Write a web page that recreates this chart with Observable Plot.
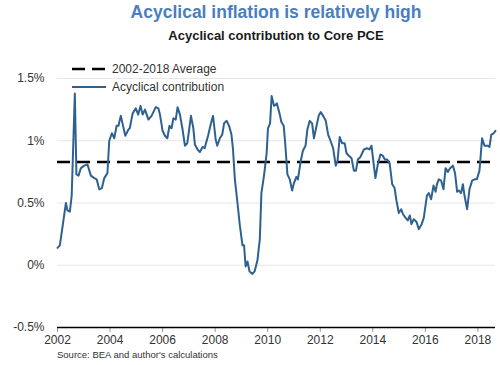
<!DOCTYPE html>
<html>
<head>
<meta charset="utf-8">
<script src="https://cdn.jsdelivr.net/npm/d3@7"></script>
<script src="https://cdn.jsdelivr.net/npm/@observablehq/plot@0.6"></script>
<style>
  body { margin: 0; background: #fff; font-family: "Liberation Sans", Arial, sans-serif; }
  #wrap { position: relative; width: 500px; height: 365px; overflow: hidden; }
  #head { position: relative; height: 48px; }
  #title { position: absolute; left: 57px; width: 438px; top: 2px; text-align: center; font-size: 17.5px; font-weight: bold; color: #4a7ebf; }
  #subtitle { position: absolute; left: 57px; width: 438px; top: 28px; text-align: center; font-size: 13px; font-weight: bold; color: #1a1a1a; }
  #legend { position: absolute; left: 72px; top: 60px; font-size: 12px; color: #333; }
  .li { display: flex; align-items: center; height: 18px; }
  .li svg { margin-right: 6px; }
  #source { position: absolute; left: 57px; top: 349px; font-size: 9.5px; color: #333; }
</style>
</head>
<body>
<div id="wrap">
  <div id="head">
    <div id="title">Acyclical inflation is relatively high</div>
    <div id="subtitle">Acyclical contribution to Core PCE</div>
  </div>
  <div id="chart"></div>
  <div id="legend">
    <div class="li"><svg width="34" height="6"><line x1="0" y1="3" x2="34" y2="3" stroke="#000" stroke-width="2.5" stroke-dasharray="13,7"/></svg>2002-2018 Average</div>
    <div class="li"><svg width="34" height="6"><line x1="0" y1="3" x2="34" y2="3" stroke="#2f6190" stroke-width="2"/></svg>Acyclical contribution</div>
  </div>
  <div id="source">Source: BEA and author's calculations</div>
</div>
<script>
// Decimal-year positions and values (%)
const years = [2002.00,2002.09,2002.32,2002.38,2002.47,2002.54,2002.66,2002.72,2002.80,2002.89,
2003.02,2003.14,2003.27,2003.40,2003.49,2003.59,2003.69,2003.78,2003.90,2003.97,
2004.07,2004.16,2004.25,2004.32,2004.41,2004.58,2004.70,2004.75,2004.86,2004.98,
2005.07,2005.16,2005.24,2005.33,2005.46,2005.58,2005.74,2005.84,2005.90,
2006.00,2006.09,2006.18,2006.26,2006.34,2006.41,2006.50,2006.57,2006.66,2006.76,2006.85,2006.94,
2007.08,2007.17,2007.23,2007.33,2007.42,2007.52,2007.60,2007.73,2007.83,2007.92,
2008.02,2008.08,2008.18,2008.27,2008.34,2008.44,2008.53,2008.62,2008.68,2008.75,2008.85,2008.94,
2009.04,2009.10,2009.16,2009.23,2009.31,2009.42,2009.50,2009.61,2009.70,2009.76,2009.86,2009.96,
2010.01,2010.09,2010.15,2010.24,2010.35,2010.46,2010.52,2010.61,2010.67,2010.75,2010.84,2010.93,
2011.00,2011.09,2011.15,2011.26,2011.34,2011.44,2011.51,2011.60,2011.69,2011.76,2011.86,2011.94,
2012.02,2012.11,2012.21,2012.30,2012.39,2012.49,2012.59,2012.66,2012.74,2012.83,2012.93,
2013.00,2013.09,2013.19,2013.28,2013.36,2013.43,2013.53,2013.66,2013.78,2013.87,2013.95,
2014.04,2014.10,2014.19,2014.29,2014.38,2014.46,2014.54,2014.64,2014.74,2014.83,2014.90,2014.99,
2015.08,2015.15,2015.25,2015.33,2015.41,2015.47,2015.56,2015.66,2015.75,2015.86,2015.94,
2016.06,2016.13,2016.22,2016.31,2016.39,2016.44,2016.51,2016.60,2016.69,2016.77,2016.86,2016.94,
2017.05,2017.13,2017.21,2017.28,2017.36,2017.43,2017.49,2017.59,2017.68,2017.78,2017.87,2017.96,
2018.06,2018.16,2018.25,2018.38,2018.44,2018.51,2018.60,2018.67];
const values = [0.14,0.16,0.50,0.44,0.43,0.56,1.38,0.73,0.72,0.78,
0.80,0.81,0.72,0.70,0.69,0.61,0.62,0.70,0.74,1.00,
1.06,1.02,1.12,1.12,1.20,1.04,1.09,1.10,1.22,1.26,
1.21,1.28,1.21,1.25,1.17,1.20,1.27,1.26,1.21,
1.08,1.04,1.02,1.12,1.10,1.18,1.17,1.27,1.21,1.09,0.96,0.98,
1.20,1.10,0.97,0.93,0.91,0.95,0.94,1.04,1.13,1.20,
1.01,0.96,1.02,1.05,1.14,1.16,1.12,1.05,0.93,0.69,0.50,0.32,
0.16,0.16,-0.01,0.03,-0.05,-0.07,-0.05,0.04,0.21,0.58,0.72,0.90,
1.10,1.14,1.36,1.28,1.30,1.21,1.15,1.12,0.97,0.73,0.69,0.60,
0.66,0.71,0.69,0.84,0.92,0.96,1.09,1.16,1.14,1.02,1.12,1.20,
1.23,1.20,1.16,1.05,1.00,0.94,0.80,0.84,1.03,0.98,0.98,
0.90,0.88,0.86,0.76,0.76,0.85,0.87,0.93,0.94,0.93,0.96,
0.80,0.70,0.81,0.89,0.88,0.85,0.85,0.82,0.65,0.62,0.52,0.42,
0.45,0.41,0.38,0.36,0.40,0.33,0.37,0.35,0.29,0.33,0.38,
0.56,0.58,0.53,0.64,0.59,0.65,0.69,0.68,0.61,0.78,0.75,0.78,
0.80,0.74,0.59,0.60,0.58,0.65,0.56,0.45,0.61,0.68,0.69,0.69,
0.76,1.02,0.96,0.96,0.95,1.05,1.06,1.08];
const average = 0.83;
const yTicks = [-0.5, 0, 0.5, 1, 1.5];
const xTicks = [2002, 2004, 2006, 2008, 2010, 2012, 2014, 2016, 2018];

const data = years.map((y, i) => ({year: y, value: values[i]}));

const chart = Plot.plot({
  width: 500,
  height: 299,
  marginTop: 30,
  marginBottom: 20,
  marginLeft: 57,
  marginRight: 5,
  style: {fontFamily: "'Liberation Sans', Arial, sans-serif", fontSize: "12px", color: "#333", background: "#fff"},
  x: {domain: [2002, 2018.67], ticks: xTicks, tickFormat: d => String(d), label: null},
  y: {domain: [-0.5, 1.5], ticks: yTicks, tickFormat: d => d + "%", label: null},
  marks: [
    Plot.gridY(yTicks.filter(t => t > -0.5), {stroke: "#e6e6e6", strokeOpacity: 1, strokeWidth: 1}),
    Plot.axisY({ticks: yTicks, tickSize: 0, tickPadding: 13, tickFormat: d => d + "%", fontSize: 12, fill: "#333"}),
    Plot.axisX({ticks: xTicks, tickSize: 5, tickPadding: 3, tickFormat: d => String(d), stroke: "#999", fontSize: 12, fill: "#333"}),
    Plot.ruleY([-0.5], {stroke: "#000", strokeWidth: 1.5}),
    Plot.ruleY([average], {stroke: "#000", strokeWidth: 2.5, strokeDasharray: "13,7"}),
    Plot.line(data, {x: "year", y: "value", stroke: "#2f6190", strokeWidth: 2, curve: "linear"})
  ]
});
document.getElementById("chart").appendChild(chart);
</script>
</body>
</html>
